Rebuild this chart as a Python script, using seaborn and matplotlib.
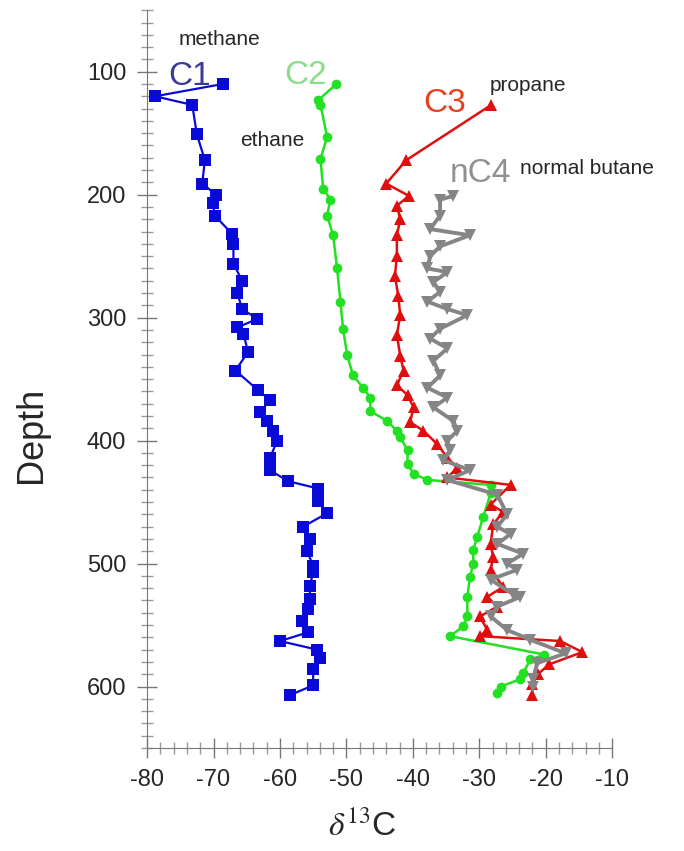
import matplotlib
matplotlib.use("Agg")
import matplotlib.pyplot as plt
import seaborn as sns
from matplotlib.ticker import MultipleLocator

sns.set_style("white")
plt.rcParams['font.family'] = ['Liberation Sans', 'DejaVu Sans']
plt.rcParams['mathtext.fontset'] = 'stix'
plt.rcParams['axes.unicode_minus'] = False

# methane C1
c1_depth = [110, 120, 127, 151, 172, 191, 200, 207, 217, 232, 240, 256, 270, 280,
            293, 301, 308, 313, 328, 343, 359, 367, 377, 384, 392, 400, 414, 424,
            433, 439, 449, 459, 470, 480, 490, 502, 507, 518, 529, 537, 547, 556,
            563, 570, 577, 586, 599, 607]
c1_d13c = [-68.6, -78.8, -73.2, -72.5, -71.3, -71.7, -69.6, -70.1, -69.8, -67.2,
           -67.0, -67.0, -65.7, -66.4, -65.7, -63.4, -66.4, -65.5, -64.8, -66.7,
           -63.3, -61.5, -63.0, -61.9, -61.0, -60.4, -61.5, -61.5, -58.8, -54.2,
           -54.2, -52.9, -56.5, -55.5, -55.9, -55.0, -55.0, -55.5, -55.5, -55.8,
           -56.7, -55.8, -60.0, -54.4, -54.0, -55.0, -55.0, -58.5]

# ethane C2
c2_depth = [110, 123, 127, 153, 171, 195, 204, 217, 233, 260, 287, 309, 330, 347,
            357, 365, 376, 384, 392, 397, 408, 419, 427, 432, 436, 443, 462, 478,
            489, 500, 511, 527, 543, 551, 559, 574, 578, 589, 594, 600, 605]
c2_d13c = [-51.5, -54.2, -53.9, -52.9, -53.9, -53.5, -52.4, -52.9, -52.0, -51.4,
           -50.9, -50.5, -49.9, -49.0, -47.5, -46.4, -46.4, -43.9, -42.4, -41.9,
           -40.8, -40.8, -39.9, -37.8, -28.3, -28.3, -29.4, -30.3, -30.9, -30.9,
           -31.4, -31.8, -31.8, -32.4, -34.4, -20.2, -22.3, -23.4, -23.8, -26.8,
           -27.3]

# propane C3
c3_depth = [127, 172, 191, 201, 209, 220, 233, 250, 266, 282, 298, 314, 331, 343,
            355, 363, 373, 385, 392, 403, 414, 422, 430, 436, 452, 458, 468, 484,
            495, 505, 519, 527, 535, 543, 554, 559, 563, 572, 582, 590, 598, 607]
c3_d13c = [-28.2, -41.0, -44.0, -40.6, -42.4, -41.9, -42.4, -42.4, -42.7, -42.2,
           -41.9, -42.4, -41.9, -41.4, -42.4, -40.8, -39.9, -40.4, -38.4, -36.3,
           -34.8, -33.3, -34.8, -25.3, -28.3, -26.4, -27.9, -28.3, -27.9, -28.3,
           -26.4, -28.8, -27.3, -29.9, -28.8, -29.9, -17.8, -14.5, -19.5, -21.2,
           -22.0, -22.0]

# normal butane nC4
c4_depth = [201, 204, 217, 228, 233, 242, 250, 260, 263, 271, 279, 287, 293, 298,
            309, 317, 325, 335, 347, 357, 365, 373, 384, 392, 400, 408, 416, 424,
            432, 444, 460, 470, 476, 484, 492, 500, 505, 513, 525, 527, 535, 543,
            554, 562, 573, 581, 594, 600]
c4_d13c = [-33.9, -35.9, -35.9, -37.4, -31.4, -35.9, -37.4, -37.8, -34.8, -36.9,
           -35.9, -37.8, -34.8, -31.8, -35.9, -37.4, -34.8, -36.9, -35.9, -37.8,
           -34.8, -36.9, -33.9, -33.3, -34.8, -34.4, -35.4, -31.4, -34.8, -27.3,
           -25.8, -27.3, -25.3, -27.3, -23.4, -25.8, -24.3, -28.3, -24.9, -23.8,
           -27.3, -28.3, -25.8, -22.3, -17.0, -21.3, -21.9, -21.9]

fig = plt.figure(figsize=(6.84, 8.51), dpi=100)
ax = fig.add_axes([0.215, 0.121, 0.68, 0.867])

sns.lineplot(x=c1_d13c, y=c1_depth, sort=False, estimator=None, orient='y', ax=ax,
             color='#0a0ad8', marker='s', markersize=8, markeredgewidth=0, lw=1.6)
sns.lineplot(x=c2_d13c, y=c2_depth, sort=False, estimator=None, orient='y', ax=ax,
             color='#22e022', marker='o', markersize=7, markeredgewidth=0, lw=1.8)
sns.lineplot(x=c3_d13c, y=c3_depth, sort=False, estimator=None, orient='y', ax=ax,
             color='#e00f0f', marker='^', markersize=8, markeredgewidth=0, lw=1.8)
sns.lineplot(x=c4_d13c, y=c4_depth, sort=False, estimator=None, orient='y', ax=ax,
             color='#858585', marker='v', markersize=9, markeredgewidth=0, lw=2.8)

ax.set_xlim(-80, -10)
ax.set_ylim(650, 50)
ax.set_xticks(range(-80, -9, 10))
ax.set_yticks(range(100, 601, 100))
ax.xaxis.set_minor_locator(MultipleLocator(2))
ax.yaxis.set_minor_locator(MultipleLocator(10))
ax.tick_params(which='both', bottom=True, left=True)
ax.tick_params(which='major', direction='inout', length=14, width=1,
               color='#777777', labelsize=17, pad=8)
ax.tick_params(which='minor', direction='inout', length=8, width=1, color='#999999')
for s in ['top', 'right']:
    ax.spines[s].set_visible(False)
for s in ['left', 'bottom']:
    ax.spines[s].set_color('#777777')

ax.set_xlabel(r'$\delta^{13}$C', fontsize=24)
ax.xaxis.set_label_coords(0.463, -0.085)
ax.set_ylabel('Depth', fontsize=26)
ax.yaxis.set_label_coords(-0.21, 0.425)

ax.text(-76.8, 104, 'C1', color='#3a3a9a', fontsize=24, va='center', ha='left')
ax.text(-59.4, 103, 'C2', color='#88dd88', fontsize=24, va='center', ha='left')
ax.text(-38.4, 126, 'C3', color='#e8401f', fontsize=24, va='center', ha='left')
ax.text(-34.4, 183, 'nC4', color='#909090', fontsize=24, va='center', ha='left')
ax.text(-75.2, 74, 'methane', fontsize=15, va='center', ha='left')
ax.text(-66.0, 156, 'ethane', fontsize=15, va='center', ha='left')
ax.text(-28.5, 111, 'propane', fontsize=15, va='center', ha='left')
ax.text(-23.8, 179, 'normal butane', fontsize=15, va='center', ha='left', clip_on=False)

fig.savefig('out.png', dpi=100)
